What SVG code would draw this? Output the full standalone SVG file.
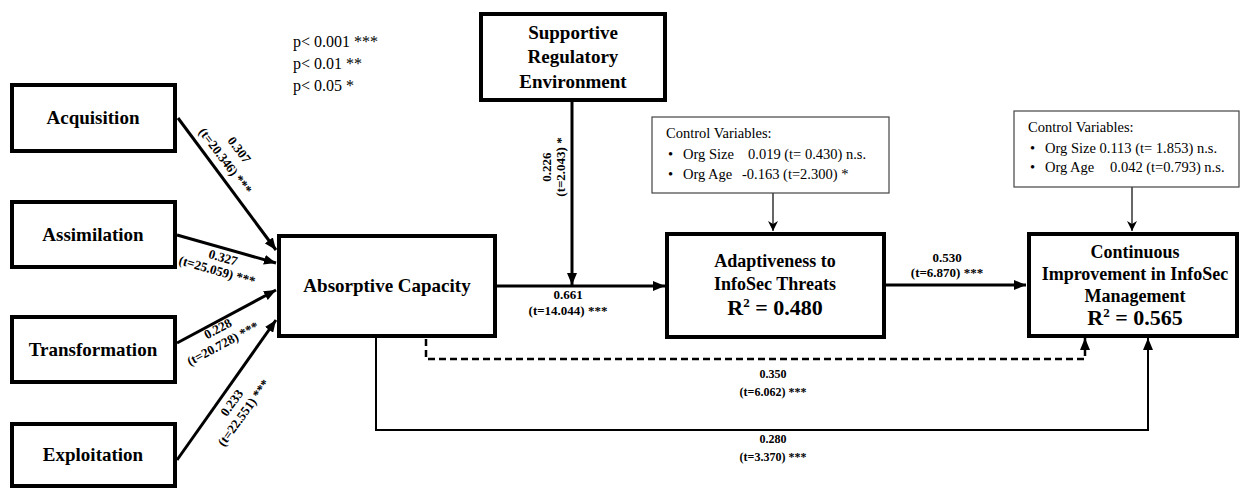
<svg xmlns="http://www.w3.org/2000/svg" width="1241" height="489" viewBox="0 0 1241 489">
<style>
.box{fill:#fff;stroke:#000;stroke-width:4}
.cbox{fill:#fff;stroke:#444;stroke-width:1.2}
.nt{font-family:"Liberation Serif","Times New Roman",serif;font-weight:bold;font-size:19px;fill:#000;text-anchor:middle}
.nt2{font-family:"Liberation Serif","Times New Roman",serif;font-weight:bold;font-size:18px;fill:#000;text-anchor:middle}
.r2{font-family:"Liberation Serif","Times New Roman",serif;font-weight:bold;font-size:22px;fill:#000;text-anchor:middle}
.el{font-family:"Liberation Serif","Times New Roman",serif;font-weight:bold;font-size:13px;fill:#000;text-anchor:middle}
.el2{font-family:"Liberation Serif","Times New Roman",serif;font-weight:bold;font-size:12px;fill:#000;text-anchor:middle}
.ct{font-family:"Liberation Serif","Times New Roman",serif;font-size:14.5px;fill:#000}
.pv{font-family:"Liberation Serif","Times New Roman",serif;font-size:16px;fill:#000}
.thick{fill:none;stroke:#000;stroke-width:3}
.mid{fill:none;stroke:#000;stroke-width:2}
.thin{fill:none;stroke:#000;stroke-width:1.2}
.dash{fill:none;stroke:#000;stroke-width:2.5;stroke-dasharray:7,4}
</style>
<defs>
<marker id="ah" markerUnits="userSpaceOnUse" markerWidth="12" markerHeight="10" refX="12" refY="5" orient="auto">
<path d="M0,0 L12,5 L0,10 z" fill="#000"/>
</marker>
<marker id="ahs" markerUnits="userSpaceOnUse" markerWidth="10" markerHeight="10" refX="10" refY="5" orient="auto">
<path d="M0,0 L10,5 L0,10 L3,5 z" fill="#000"/>
</marker>
</defs>

<g id="legend">
<text class="pv" x="293" y="47">p&lt; 0.001 ***</text>
<text class="pv" x="293" y="69">p&lt; 0.01 **</text>
<text class="pv" x="293" y="91">p&lt; 0.05 *</text>
</g>

<g id="connectors">
<line class="thick" x1="178" y1="118" x2="276" y2="250" marker-end="url(#ah)"/>
<line class="thick" x1="177" y1="235" x2="276" y2="263" marker-end="url(#ah)"/>
<line class="thick" x1="177" y1="343" x2="276" y2="290" marker-end="url(#ah)"/>
<line class="thick" x1="177" y1="460" x2="276" y2="320" marker-end="url(#ah)"/>
<line class="thick" x1="497" y1="286" x2="665" y2="286" marker-end="url(#ah)"/>
<line class="thick" x1="572" y1="102" x2="572" y2="285" marker-end="url(#ah)"/>
<line class="thick" x1="886" y1="285" x2="1026" y2="285" marker-end="url(#ah)"/>
<line class="thin" x1="773" y1="193" x2="773" y2="231" marker-end="url(#ahs)"/>
<line class="thin" x1="1132" y1="187" x2="1132" y2="231" marker-end="url(#ahs)"/>
<polyline class="dash" points="426,339 426,359 1085,359 1085,338" marker-end="url(#ah)"/>
<polyline class="mid" points="376,338 376,430 1148,430 1148,338" marker-end="url(#ah)"/>

<text class="el" transform="translate(239,150) rotate(53)" y="4">0.307</text>
<text class="el" transform="translate(225,161) rotate(53)" y="4">(t=20.346) ***</text>
<text class="el" transform="translate(223,258) rotate(16)" y="4">0.327</text>
<text class="el" transform="translate(217,271) rotate(16)" y="4">(t=25.059) ***</text>
<text class="el" transform="translate(218,329) rotate(-28)" y="4">0.228</text>
<text class="el" transform="translate(223,344) rotate(-28)" y="4">(t=20.728) ***</text>
<text class="el" transform="translate(232,403) rotate(-54)" y="4">0.233</text>
<text class="el" transform="translate(244,413) rotate(-54)" y="4">(t=22.551) ***</text>
<text class="el" transform="translate(547,167) rotate(-90)" y="4">0.226</text>
<text class="el" transform="translate(561,167) rotate(-90)" y="4">(t=2.043) *</text>
<text class="el" x="568" y="299">0.661</text>
<text class="el" x="568" y="315">(t=14.044) ***</text>
<text class="el" x="947" y="262">0.530</text>
<text class="el" x="947" y="277">(t=6.870) ***</text>
<text class="el2" x="773" y="378">0.350</text>
<text class="el2" x="773" y="396">(t=6.062) ***</text>
<text class="el2" x="773" y="443">0.280</text>
<text class="el2" x="773" y="461">(t=3.370) ***</text>
</g>

<g id="acquisition">
<rect class="box" x="12" y="85" width="163" height="66"/>
<text class="nt" x="93" y="124">Acquisition</text>
</g>
<g id="assimilation">
<rect class="box" x="12" y="202" width="163" height="65"/>
<text class="nt" x="93" y="241">Assimilation</text>
</g>
<g id="transformation">
<rect class="box" x="12" y="317" width="163" height="65"/>
<text class="nt" x="93" y="356">Transformation</text>
</g>
<g id="exploitation">
<rect class="box" x="12" y="424" width="163" height="62"/>
<text class="nt" x="93" y="461">Exploitation</text>
</g>
<g id="absorptive">
<rect class="box" x="279" y="236" width="216" height="100"/>
<text class="nt" x="387" y="292">Absorptive Capacity</text>
</g>
<g id="regulatory">
<rect class="box" x="481" y="14" width="184" height="86"/>
<text class="nt" x="573" y="39">Supportive</text>
<text class="nt" x="573" y="63">Regulatory</text>
<text class="nt" x="573" y="88">Environment</text>
</g>
<g id="control1">
<rect class="cbox" x="652" y="117" width="237" height="76"/>
<text class="ct" x="666" y="138">Control Variables:</text>
<text class="ct" x="668" y="159">•</text>
<text class="ct" x="683" y="159">Org Size</text>
<text class="ct" x="748" y="159">0.019 (t= 0.430) n.s.</text>
<text class="ct" x="668" y="179">•</text>
<text class="ct" x="683" y="179">Org Age</text>
<text class="ct" x="742" y="179">-0.163 (t=2.300) *</text>
</g>
<g id="adaptiveness">
<rect class="box" x="667" y="234" width="217" height="103"/>
<text class="nt2" x="775" y="267">Adaptiveness to</text>
<text class="nt2" x="775" y="290">InfoSec Threats</text>
<text class="r2" x="775" y="315">R<tspan font-size="13" dy="-8">2</tspan><tspan dy="8"> = 0.480</tspan></text>
</g>
<g id="control2">
<rect class="cbox" x="1014" y="111" width="225" height="76"/>
<text class="ct" x="1028" y="132">Control Variables:</text>
<text class="ct" x="1030" y="153">•</text>
<text class="ct" x="1045" y="153">Org Size 0.113 (t= 1.853) n.s.</text>
<text class="ct" x="1030" y="172">•</text>
<text class="ct" x="1045" y="172">Org Age</text>
<text class="ct" x="1110" y="172">0.042 (t=0.793) n.s.</text>
</g>
<g id="continuous">
<rect class="box" x="1029" y="234" width="208" height="102"/>
<text class="nt2" x="1135" y="258">Continuous</text>
<text class="nt2" x="1135" y="280">Improvement in InfoSec</text>
<text class="nt2" x="1135" y="302">Management</text>
<text class="r2" x="1135" y="325">R<tspan font-size="13" dy="-8">2</tspan><tspan dy="8"> = 0.565</tspan></text>
</g>
</svg>
